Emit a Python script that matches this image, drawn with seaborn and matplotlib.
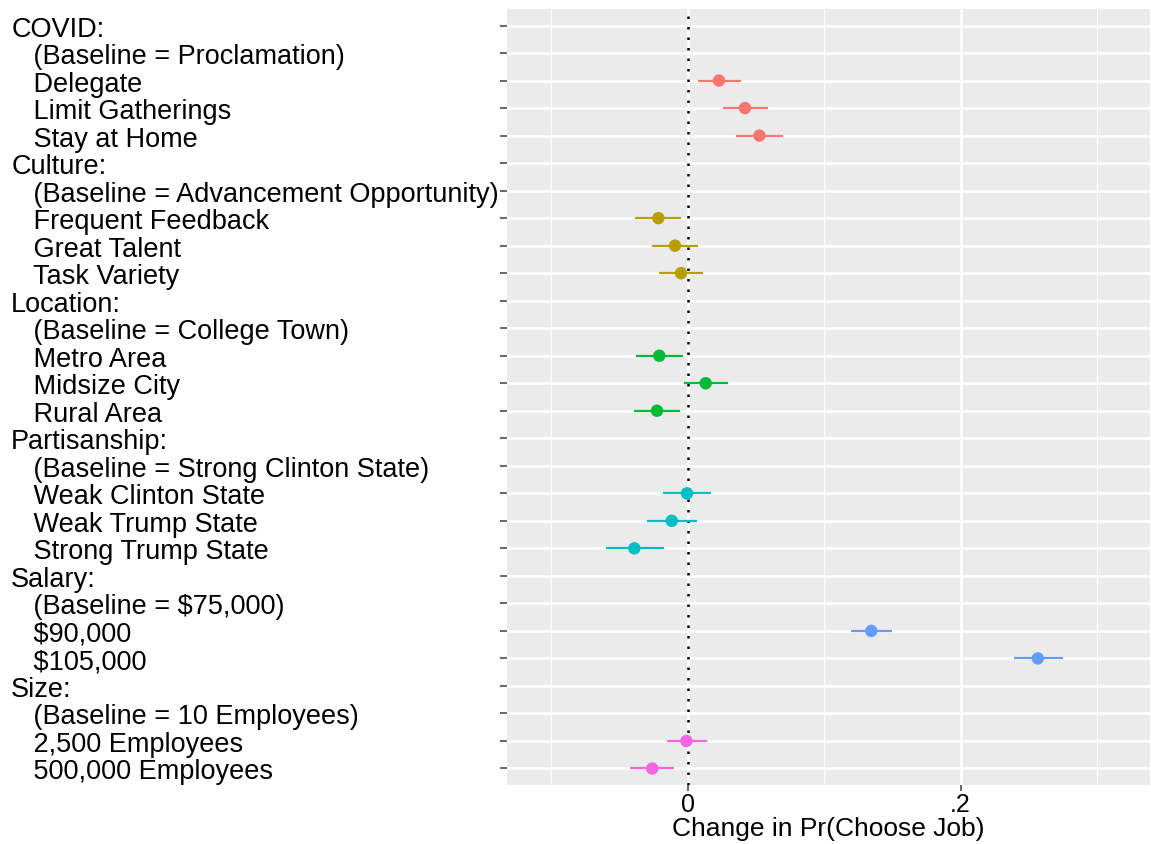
import numpy as np
import pandas as pd
import matplotlib
matplotlib.use("Agg")
import matplotlib.pyplot as plt
import seaborn as sns

# row labels (top to bottom)
labels = [
    "COVID:", "   (Baseline = Proclamation)", "   Delegate", "   Limit Gatherings", "   Stay at Home",
    "Culture:", "   (Baseline = Advancement Opportunity)", "   Frequent Feedback", "   Great Talent", "   Task Variety",
    "Location:", "   (Baseline = College Town)", "   Metro Area", "   Midsize City", "   Rural Area",
    "Partisanship:", "   (Baseline = Strong Clinton State)", "   Weak Clinton State", "   Weak Trump State", "   Strong Trump State",
    "Salary:", "   (Baseline = $75,000)", "   $90,000", "   $105,000",
    "Size:", "   (Baseline = 10 Employees)", "   2,500 Employees", "   500,000 Employees",
]

# group of each row
group = ["COVID"] * 5 + ["Culture"] * 5 + ["Location"] * 5 + ["Partisanship"] * 5 + ["Salary"] * 4 + ["Size"] * 4

nan = np.nan
# point estimates (nan for header / baseline rows)
est = [nan, nan, 0.0229, 0.0420, 0.0525,
       nan, nan, -0.0215, -0.0093, -0.0049,
       nan, nan, -0.0208, 0.0132, -0.0225,
       nan, nan, -0.0005, -0.0117, -0.0391,
       nan, nan, 0.1345, 0.2566,
       nan, nan, -0.0009, -0.0260]
lo = [nan, nan, 0.0073, 0.0256, 0.0354,
      nan, nan, -0.0386, -0.0259, -0.0210,
      nan, nan, -0.0381, -0.0029, -0.0393,
      nan, nan, -0.0179, -0.0298, -0.0601,
      nan, nan, 0.1194, 0.2390,
      nan, nan, -0.0150, -0.0425]
hi = [nan, nan, 0.0393, 0.0586, 0.0696,
      nan, nan, -0.0051, 0.0075, 0.0114,
      nan, nan, -0.0032, 0.0293, -0.0054,
      nan, nan, 0.0168, 0.0070, -0.0176,
      nan, nan, 0.1500, 0.2748,
      nan, nan, 0.0139, -0.0098]

groups = ["COVID", "Culture", "Location", "Partisanship", "Salary", "Size"]
colors = ["#F8766D", "#B79F00", "#00BA38", "#00BFC4", "#619CFF", "#F564E3"]

df = pd.DataFrame({"row": np.arange(len(labels)), "label": labels, "group": group,
                   "est": est, "lo": lo, "hi": hi})
pal = dict(zip(groups, colors))

sns.set_style("darkgrid", {"axes.facecolor": "#EBEBEB", "grid.color": "white",
                           "ytick.left": True, "xtick.bottom": True})
plt.rcParams["font.family"] = ["Liberation Sans", "DejaVu Sans"]

fig = plt.figure(figsize=(11.51, 8.45), dpi=100)
ax = fig.add_axes([0.4405, 1 - 786 / 845, 0.5585, 776 / 845])

# minor grid
ax.set_xticks([-0.1, 0.1, 0.3], minor=True)
ax.grid(True, which="minor", axis="x", color="white", linewidth=0.8)
ax.grid(True, which="major", color="white", linewidth=1.8)

ax.axvline(0, color="black", linestyle=(0, (1, 3.2)), linewidth=1.8, zorder=2)

d = df.dropna()
for g, sub in d.groupby("group"):
    ax.hlines(sub["row"], sub["lo"], sub["hi"], color=pal[g], linewidth=1.6, zorder=3)
sns.scatterplot(data=d, x="est", y="row", hue="group", palette=pal, s=80,
                edgecolor="none", legend=False, ax=ax, zorder=4)

ax.set_xlim(-0.1324, 0.3387)
ax.set_ylim(len(labels) - 0.4, -0.6)
ax.set_xticks([0, 0.2])
ax.set_xticklabels(["0", ".2"], fontsize=18)
ax.set_yticks(df["row"])
ax.set_yticklabels(df["label"], fontsize=19.5)
for t in ax.get_yticklabels():
    t.set_horizontalalignment("left")
ax.tick_params(axis="y", left=True, length=5, width=1.2, color="#4D4D4D", pad=352, labelcolor="black")
ax.tick_params(axis="x", which="major", bottom=True, length=4, width=1.2, color="#4D4D4D", pad=1, labelcolor="black")
ax.tick_params(axis="x", which="minor", length=0)
ax.set_ylabel("")
ax.set_xlabel("Change in Pr(Choose Job)", fontsize=19, labelpad=0, color="black")
for s in ax.spines.values():
    s.set_visible(False)

fig.savefig("out.png", dpi=100)
